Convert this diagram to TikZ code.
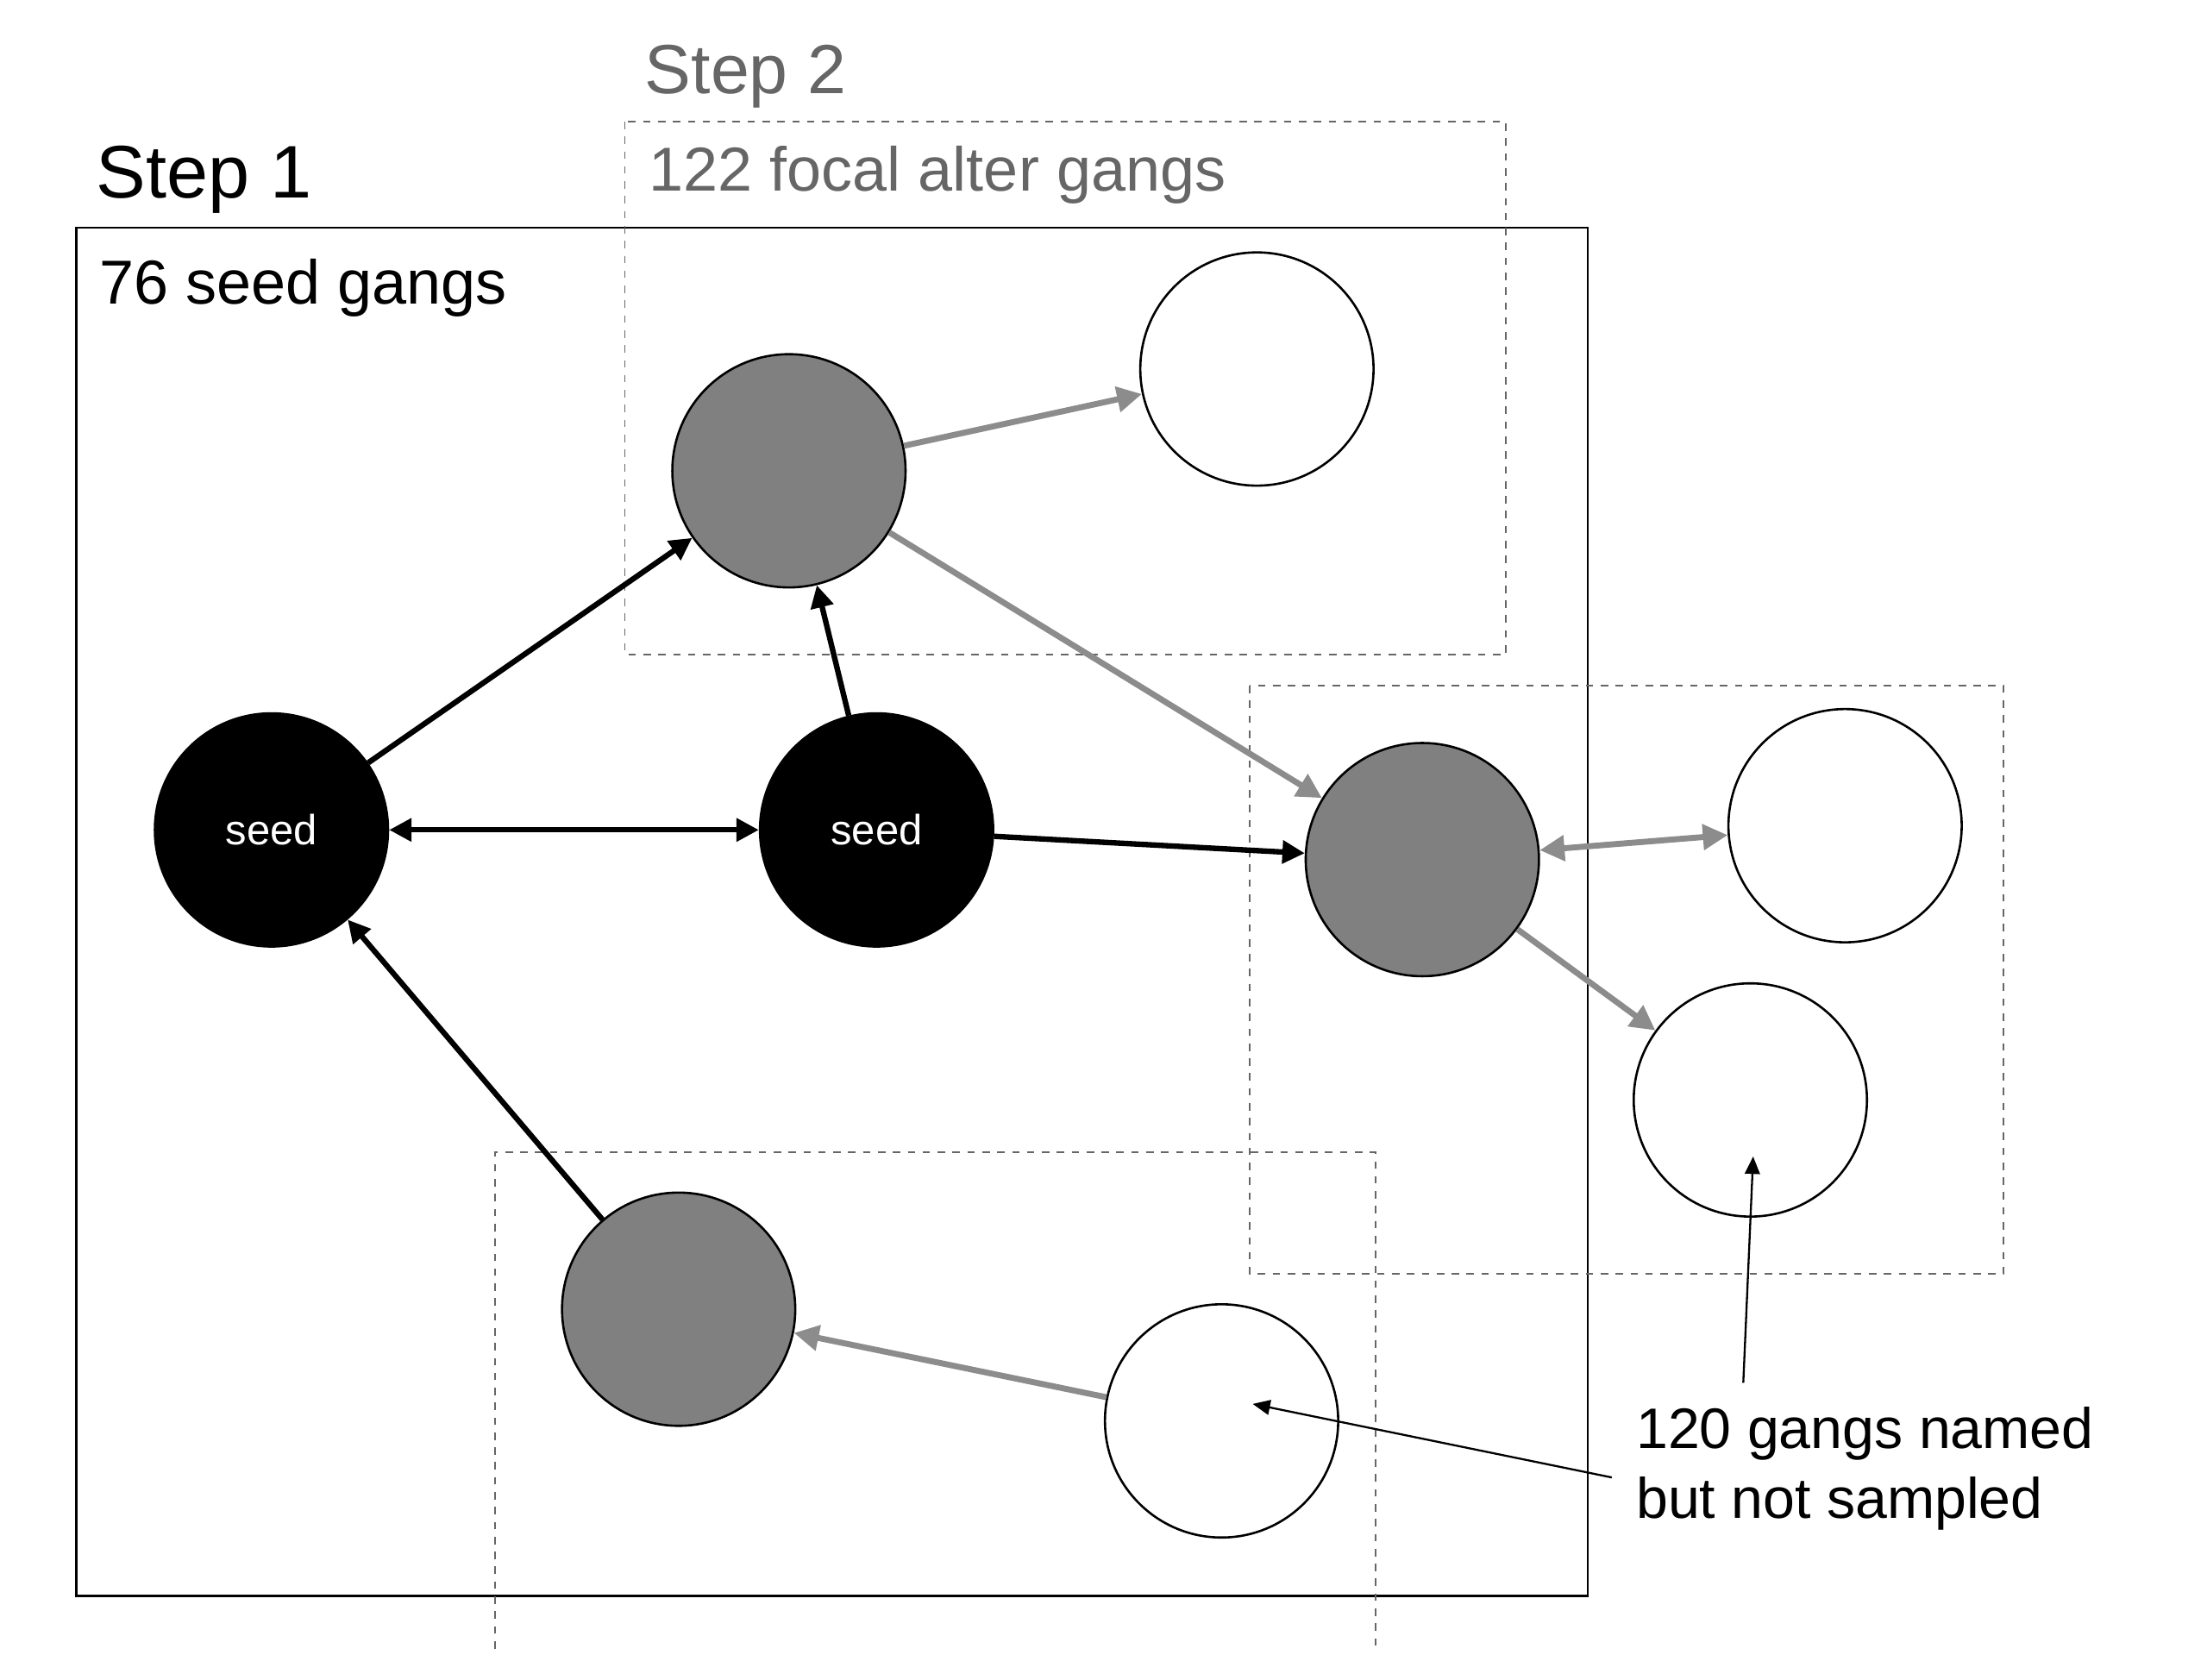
\documentclass[tikz,border=0pt]{standalone}
\usepackage{fontspec}
\setmainfont{Liberation Sans}
\usetikzlibrary{arrows.meta}
\begin{document}
\begin{tikzpicture}[x=0.02cm,y=-0.02cm,
  circ/.style={circle,draw=black,line width=0.9pt,minimum size=3.3cm,inner sep=0pt},
  seed/.style={circ,fill=black,text=white,font=\fontsize{17}{17}\selectfont},
  grayn/.style={circ,fill=black!50},
  whiten/.style={circ,fill=white},
  blk/.style={line width=2.2pt,-{Triangle[length=9pt,width=9pt]}},
  blkb/.style={blk,{Triangle[length=9pt,width=9pt]}-{Triangle[length=9pt,width=9pt]}},
  gry/.style={line width=2.4pt,draw=black!45,-{Triangle[length=10pt,width=10pt]},color=black!45},
  gryb/.style={gry,{Triangle[length=10pt,width=10pt]}-{Triangle[length=10pt,width=10pt]}},
  dbox/.style={draw=black!60,dashed,line width=0.6pt},
  thin/.style={line width=0.8pt,-{Triangle[length=7pt,width=6pt]}}]
\useasboundingbox (0,0) rectangle (1561,1188);
\draw[line width=1pt] (54,161) rectangle (1123,1129);
\draw[dbox] (442,86) rectangle (1065,463);
\draw[dbox] (884,485) rectangle (1417,901);
\draw[dbox] (350,1166) -- (350,815) -- (973,815) -- (973,1166);
\node[anchor=base west,font=\fontsize{30}{30}\selectfont] (s1) at (62,140) {Step 1};
\node[anchor=base west,font=\fontsize{25}{25}\selectfont] (sg) at (64,215) {76 seed gangs};
\node[anchor=base west,font=\fontsize{28}{28}\selectfont,text=black!60] (s2) at (450,66) {Step 2};
\node[anchor=base west,font=\fontsize{25}{25}\selectfont,text=black!60] (fa) at (453,135) {122 focal alter gangs};
\node[seed] (sd1) at (192,587) {seed};
\node[seed] (sd2) at (620,587) {seed};
\node[grayn] (gA) at (558,333) {};
\node[whiten] (wA) at (889,261) {};
\node[grayn] (gB) at (1006,608) {};
\node[whiten] (wB) at (1305,584) {};
\node[whiten] (wC) at (1238,778) {};
\node[grayn] (gC) at (480,926) {};
\node[whiten] (wD) at (864,1005) {};
\draw[blk] (sd1) -- (gA);
\draw[blkb] (sd1) -- (sd2);
\draw[blk] (sd2) -- (gA);
\draw[blk] (sd2) -- (gB);
\draw[blk] (gC) -- (sd1);
\draw[gry] (gA) -- (wA);
\draw[gry] (gA) -- (gB);
\draw[gryb] (gB) -- (wB);
\draw[gry] (gB) -- (wC);
\draw[gry] (wD) -- (gC);
\node[anchor=north west,align=left,font=\fontsize{23}{28}\selectfont,inner sep=0pt] (lab) at (1157,995) {120 gangs named\\but not sampled};
\coordinate (p1) at (1140,1045);
\coordinate (p2) at (1233,978);
\coordinate (t1) at (886,993);
\coordinate (t2) at (1240,818);
\draw[thin] (p1) -- (t1);
\draw[thin] (p2) -- (t2);
\end{tikzpicture}
\end{document}
